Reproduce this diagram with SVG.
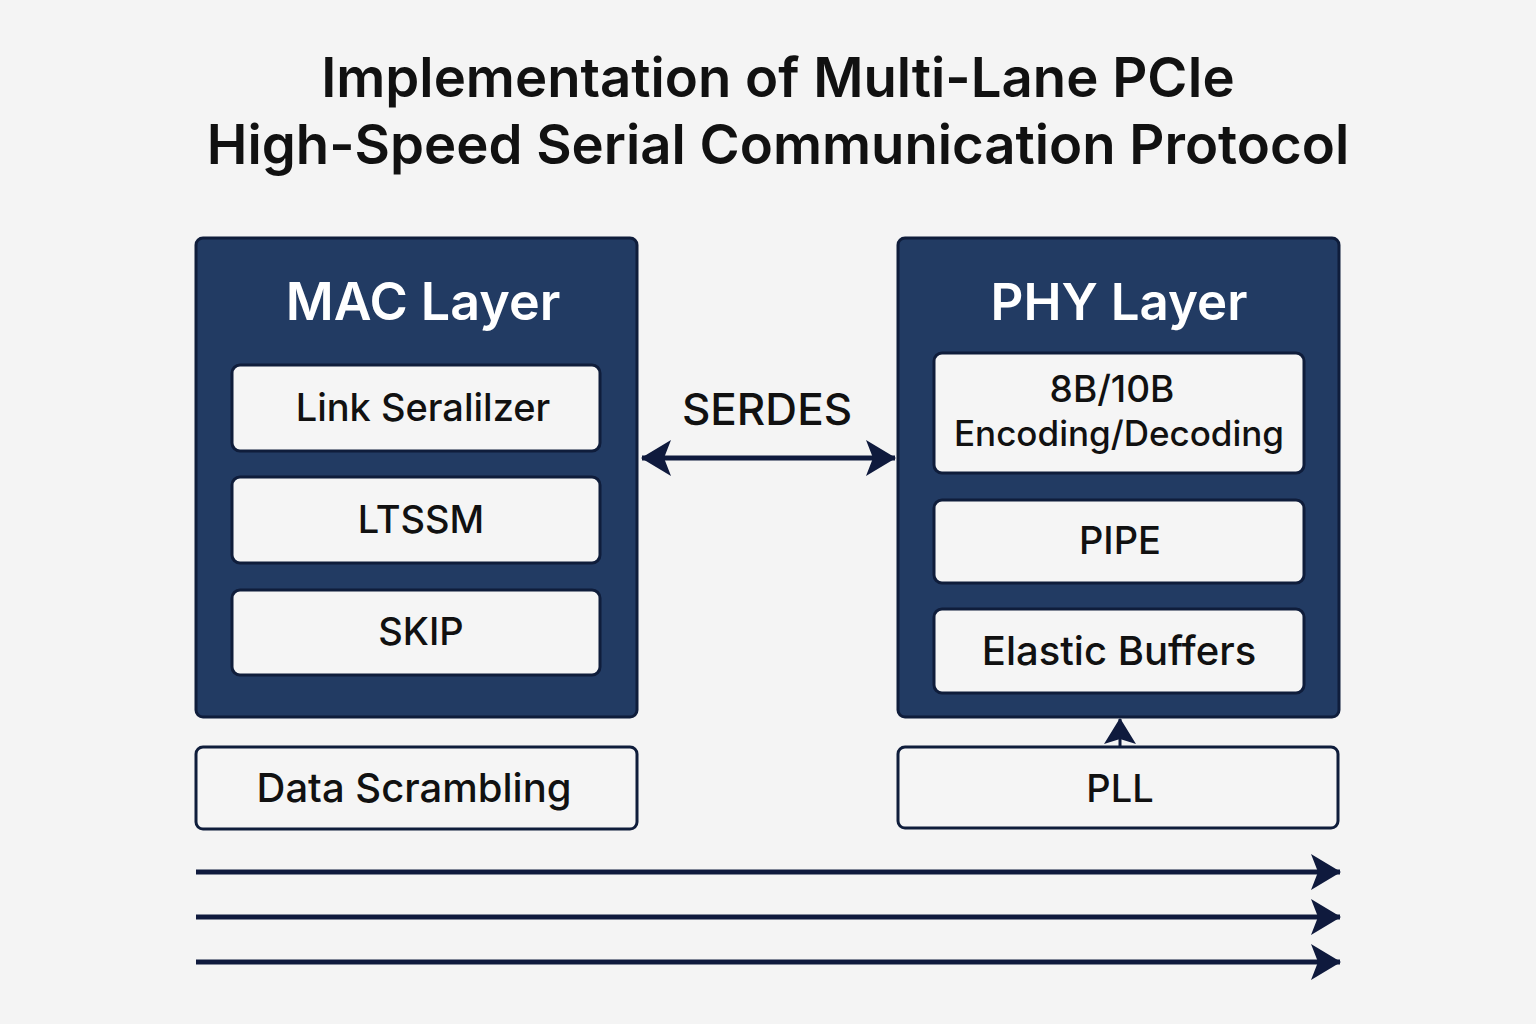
<svg xmlns="http://www.w3.org/2000/svg" width="1536" height="1024" viewBox="0 0 1536 1024">
<style>
.bg{fill:#f4f4f4}
.layer{fill:#223b63;stroke:#0f1d3b;stroke-width:3}
.box{fill:#f5f5f5;stroke:#0f1d3b;stroke-width:3}
.title{font-family:Inter,"Noto Sans","Liberation Sans",sans-serif;font-weight:600;font-size:54.5px;fill:#111;text-anchor:middle}
.lt{font-family:Inter,"Noto Sans","Liberation Sans",sans-serif;font-weight:600;font-size:51px;fill:#fff;text-anchor:middle}
.bt{font-family:Inter,"Noto Sans","Liberation Sans",sans-serif;font-weight:500;font-size:38px;fill:#111;text-anchor:middle}
.conn{stroke:#0f1a3d;stroke-width:5;fill:none}
</style>
<defs>
<marker id="ah" viewBox="0 0 30 36" refX="29" refY="18" markerWidth="30" markerHeight="36" markerUnits="userSpaceOnUse" orient="auto-start-reverse">
<path d="M0,0 L30,18 L0,36 L7,18 z" fill="#0f1a3d"/>
</marker>
<marker id="ahs" viewBox="0 0 26 32" refX="25" refY="16" markerWidth="26" markerHeight="32" markerUnits="userSpaceOnUse" orient="auto">
<path d="M0,0 L26,16 L0,32 L5,16 z" fill="#0f1a3d"/>
</marker>
</defs>
<rect class="bg" width="1536" height="1024"/>
<g id="title">
<text class="title" x="778" y="97">Implementation of Multi-Lane PCIe</text>
<text class="title" x="778" y="164">High-Speed Serial Communication Protocol</text>
</g>
<g id="mac-layer">
<rect class="layer" x="196" y="238" width="441" height="479" rx="7"/>
<text class="lt" x="423" y="320" style="font-size:52px">MAC Layer</text>
</g>
<g id="link-serializer"><rect class="box" x="232" y="365" width="368" height="86" rx="8"/><text class="bt" x="423" y="421">Link Seralilzer</text></g>
<g id="ltssm"><rect class="box" x="232" y="477" width="368" height="86" rx="8"/><text class="bt" x="421" y="533">LTSSM</text></g>
<g id="skip"><rect class="box" x="232" y="590" width="368" height="85" rx="8"/><text class="bt" x="421" y="645">SKIP</text></g>
<g id="phy-layer">
<rect class="layer" x="898" y="238" width="441" height="479" rx="7"/>
<text class="lt" x="1119" y="320">PHY Layer</text>
</g>
<g id="encoding"><rect class="box" x="934" y="353" width="370" height="120" rx="8"/><text class="bt" x="1112" y="402" style="font-size:37px">8B/10B</text><text class="bt" x="1119" y="446" style="font-size:35px">Encoding/Decoding</text></g>
<g id="pipe"><rect class="box" x="934" y="500" width="370" height="83" rx="8"/><text class="bt" x="1120" y="554">PIPE</text></g>
<g id="elastic-buffers"><rect class="box" x="934" y="609" width="370" height="84" rx="8"/><text class="bt" x="1119" y="665" style="font-size:40px">Elastic Buffers</text></g>
<g id="data-scrambling"><rect class="box" x="196" y="747" width="441" height="82" rx="7"/><text class="bt" x="414" y="802" style="font-size:40px">Data Scrambling</text></g>
<g id="pll"><rect class="box" x="898" y="747" width="440" height="81" rx="7"/><text class="bt" x="1120" y="802">PLL</text></g>
<g id="serdes-label"><text class="bt" x="767" y="425" style="font-size:44px">SERDES</text></g>
<g id="connectors">
<line class="conn" x1="642" y1="458" x2="895" y2="458" marker-start="url(#ah)" marker-end="url(#ah)"/>
<line class="conn" x1="1120" y1="746" x2="1120" y2="719" style="stroke-width:3" marker-end="url(#ahs)"/>
<line class="conn" x1="196" y1="872" x2="1340" y2="872" marker-end="url(#ah)"/>
<line class="conn" x1="196" y1="917" x2="1340" y2="917" marker-end="url(#ah)"/>
<line class="conn" x1="196" y1="962" x2="1340" y2="962" marker-end="url(#ah)"/>
</g>
</svg>
